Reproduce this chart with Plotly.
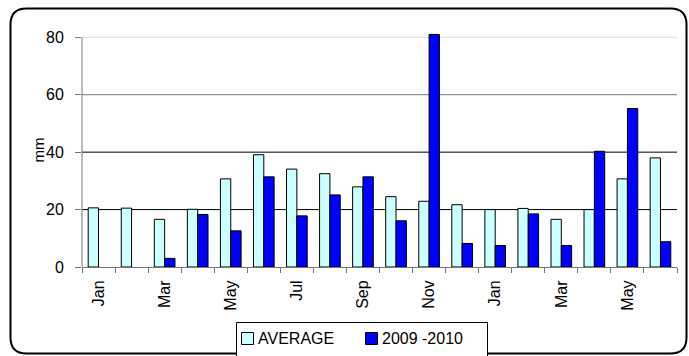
import plotly.graph_objects as go

# Monthly rainfall (mm): long-term average vs. Jan 2009 - Jun 2010
months = ["Jan", "Feb", "Mar", "Apr", "May", "Jun", "Jul", "Aug", "Sep",
          "Oct", "Nov", "Dec", "Jan", "Feb", "Mar", "Apr", "May", "Jun"]
average = [20.6, 20.5, 16.6, 20.1, 30.7, 39.1, 34.1, 32.5, 27.9,
           24.5, 22.9, 21.7, 20.0, 20.4, 16.6, 20.0, 30.7, 38.0]
season_2009_2010 = [None, None, 3.0, 18.3, 12.6, 31.4, 17.8, 25.1, 31.4,
                    16.1, 81.0, 8.2, 7.5, 18.5, 7.5, 40.3, 55.2, 8.8]
series_names = ["AVERAGE", "2009 -2010"]
series_colors = ["#CCFFFF", "#0000FF"]
y_ticks = [0, 20, 40, 60, 80]

W, H = 689, 356
ML, MR, MT, MB = 82, 12, 33, 89
PW, PH = W - ML - MR, H - MT - MB
Y_MAX = 81.5

def px(x):
    return (x - ML) / PW

def py(y):
    return (H - MB - y) / PH

xpos = list(range(len(months)))
ticktext = [m if i % 2 == 0 else "" for i, m in enumerate(months)]

fig = go.Figure()
for name, vals, col in zip(series_names, [average, season_2009_2010], series_colors):
    fig.add_trace(go.Bar(x=xpos, y=vals, name=name, showlegend=False,
                         marker=dict(color=col, line=dict(color="black", width=1))))

font = "Liberation Sans, Arial, sans-serif"

# horizontal gridlines
grid_colors = ["#000000", "#000000", "#000000", "#777777", "#dddddd"]
shapes = []
for v, c in zip(y_ticks[1:], grid_colors[1:]):
    shapes.append(dict(type="line", xref="paper", yref="y", x0=0, x1=1, y0=v, y1=v,
                       line=dict(color=c, width=1), layer="below"))
# vertical value axis line
shapes.append(dict(type="line", xref="paper", yref="y", x0=0, x1=0, y0=0, y1=y_ticks[-1],
                   line=dict(color="#777777", width=1)))

# rounded outer frame
L, R, T, B, r = 10.5, 686.5, 8.5, 353.5, 16
path = (f"M {px(L + r)},{py(T)} L {px(R - r)},{py(T)} Q {px(R)},{py(T)} {px(R)},{py(T + r)} "
        f"L {px(R)},{py(B - r)} Q {px(R)},{py(B)} {px(R - r)},{py(B)} "
        f"L {px(L + r)},{py(B)} Q {px(L)},{py(B)} {px(L)},{py(B - r)} "
        f"L {px(L)},{py(T + r)} Q {px(L)},{py(T)} {px(L + r)},{py(T)} Z")
shapes.append(dict(type="path", xref="paper", yref="paper", path=path,
                   line=dict(color="black", width=2)))

# legend: framed box with square swatches and labels
shapes.append(dict(type="rect", xref="paper", yref="paper",
                   x0=px(236.5), x1=px(487.5), y0=py(322.5), y1=py(362),
                   line=dict(color="black", width=1), fillcolor="white"))
annotations = []
swatch_left = [241, 365]
for name, col, sx in zip(series_names, series_colors, swatch_left):
    shapes.append(dict(type="rect", xref="paper", yref="paper",
                       x0=px(sx + 0.5), x1=px(sx + 12.5), y0=py(332.5), y1=py(344.5),
                       line=dict(color="black", width=1), fillcolor=col))
    annotations.append(dict(text=name, x=px(sx + 15), y=py(338.5), xref="paper", yref="paper",
                            xanchor="left", yanchor="middle", showarrow=False,
                            font=dict(family=font, size=16, color="black")))

annotations.append(dict(text="mm", x=px(27), y=py(150), xref="paper", yref="paper",
                        showarrow=False, textangle=-90,
                        font=dict(family=font, size=15, color="black")))

fig.update_layout(
    width=W, height=H,
    margin=dict(l=ML, r=MR, t=MT, b=MB, autoexpand=False),
    paper_bgcolor="white", plot_bgcolor="white",
    barmode="group", bargap=0.375, bargroupgap=0,
    font=dict(family=font, size=16, color="black"),
    showlegend=False,
    shapes=shapes,
    annotations=annotations,
    xaxis=dict(range=[-0.5, len(months) - 0.5], tickmode="array", tickvals=xpos,
               ticktext=ticktext, tickangle=-90, ticks="", showgrid=False,
               showline=True, linecolor="#777777", linewidth=1, zeroline=False,
               ticklabelstandoff=6, automargin=False,
               tickfont=dict(family=font, size=16, color="black"),
               minor=dict(tickmode="array",
                          tickvals=[i - 0.5 for i in range(len(months) + 1)],
                          ticks="outside", ticklen=5, tickcolor="#777777", showgrid=False)),
    yaxis=dict(range=[0, Y_MAX], tickmode="array", tickvals=y_ticks,
               ticks="outside", ticklen=6, tickcolor="#777777", showgrid=False,
               showline=False, zeroline=False, ticklabelstandoff=8, automargin=False,
               tickfont=dict(family=font, size=16, color="black")),
)

fig.write_html("out.html")
